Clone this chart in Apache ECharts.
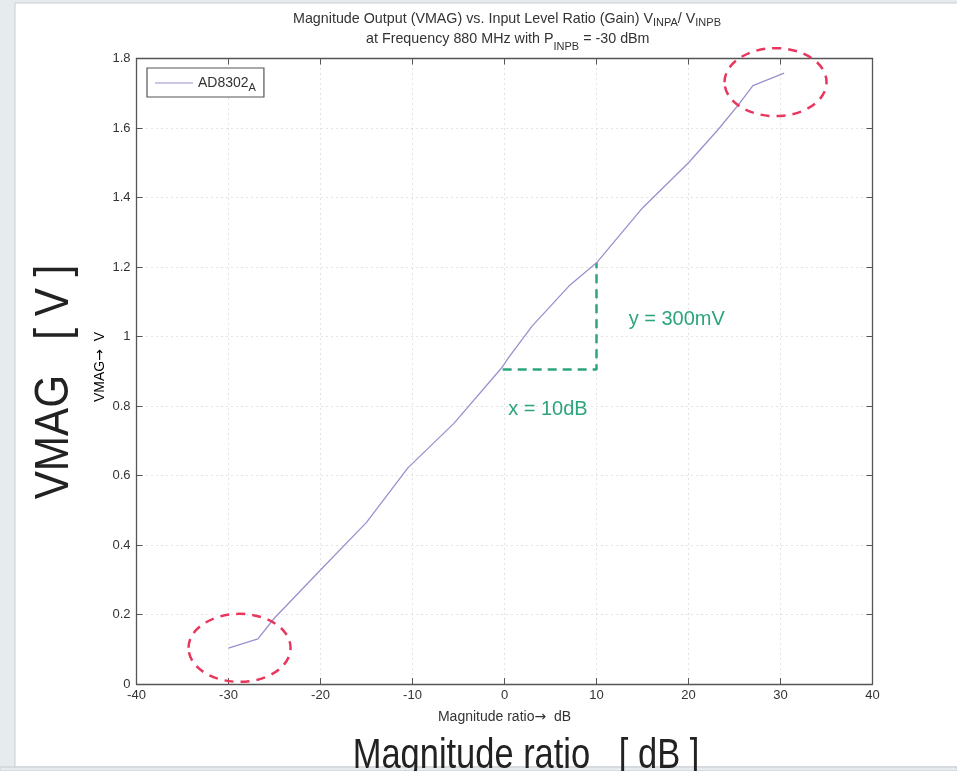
<!DOCTYPE html>
<html>
<head>
<meta charset="utf-8">
<script src="https://cdn.jsdelivr.net/npm/echarts@6/dist/echarts.min.js"></script>
<style>
  html, body { margin: 0; padding: 0; background: #e6ebee; }
  #chart { width: 957px; height: 771px; }
</style>
</head>
<body>
<div id="chart"></div>
<script>
// ---- data ----
const gainDb = [-30, -26.8, -25, -20, -15, -10.5, -5.5, -0.3, 0.4, 3, 7, 10, 15, 20, 23.2, 25.4, 27, 30.4];
const vmag   = [0.103, 0.13, 0.19, 0.328, 0.465, 0.622, 0.75, 0.91, 0.938, 1.03, 1.145, 1.212, 1.37, 1.50, 1.595, 1.666, 1.722, 1.758];
const slopeX = [-0.2, 10, 10];
const slopeY = [0.905, 0.905, 1.212];
const ellipseCentersX = [-28.8, 29.46];
const ellipseCentersY = [0.104, 1.732];
const xTicks = { min: -40, max: 40, interval: 10 };
const yTicks = { min: 0, max: 1.8, interval: 0.2 };
const seriesName = 'AD8302A';

const FONT = "'Liberation Sans', Arial, sans-serif";
const chart = echarts.init(document.getElementById('chart'));

const lineData = gainDb.map((x, i) => [x, vmag[i]]);
const slopeData = slopeX.map((x, i) => [x, slopeY[i]]);

const frameColor = '#555';
const gridLine = { show: true, lineStyle: { color: '#c9c9c9', type: [1, 4], width: 1 } };

function axisBase(show) {
  return {
    type: 'value',
    axisLine: { show: true, onZero: false, lineStyle: { color: frameColor, width: 1.3 } },
    axisTick: { show: true, inside: true, length: 6, lineStyle: { color: frameColor } },
    axisLabel: { show: show, color: '#333', fontSize: 13, fontFamily: FONT },
    splitLine: show ? gridLine : { show: false }
  };
}

const arrowRich = { fontSize: 14, color: '#333', fontFamily: "'DejaVu Sans', sans-serif" };
const nameRich = { n: { fontSize: 14, color: '#333', fontFamily: FONT }, r: arrowRich };

const option = {
  backgroundColor: 'transparent',
  animation: false,
  title: {
    left: 288,
    top: 7,
    textAlign: 'left',
    text: '{t|Magnitude Output (VMAG) vs. Input Level Ratio (Gain) V}{s|INPA}{t|/ V}{s|INPB}\n{c|}{t|at Frequency 880 MHz with P}{s2|INPB}{t| = -30 dBm}',
    textStyle: {
      fontFamily: FONT,
      fontWeight: 'normal',
      rich: {
        c: { width: 73 },
        t: { fontSize: 14.3, fontWeight: 'normal', color: '#333', fontFamily: FONT, lineHeight: 20, verticalAlign: 'top' },
        s: { fontSize: 11, fontWeight: 'normal', color: '#333', fontFamily: FONT, lineHeight: 20, padding: [5, 0, 0, 0], verticalAlign: 'top' },
        s2: { fontSize: 11, fontWeight: 'normal', color: '#333', fontFamily: FONT, lineHeight: 20, padding: [9, 0, 0, 0], verticalAlign: 'top' }
      }
    }
  },
  legend: {
    left: 147,
    top: 68,
    orient: 'vertical',
    data: [seriesName],
    backgroundColor: '#fff',
    borderColor: frameColor,
    borderWidth: 1.2,
    borderRadius: 0,
    padding: [5, 8, 4, 8],
    itemWidth: 38,
    itemHeight: 10,
    itemGap: 4,
    icon: 'path://M0,4.5 L38,4.5 L38,5.5 L0,5.5 Z',
    formatter: () => '{a|AD8302}{b|A}',
    textStyle: {
      rich: {
        a: { fontSize: 14, color: '#333', fontFamily: FONT, lineHeight: 18 },
        b: { fontSize: 11, color: '#333', fontFamily: FONT, lineHeight: 18, padding: [9, 0, 0, 0] }
      }
    }
  },
  grid: { left: 136.5, right: 84.5, top: 58.5, bottom: 87, containLabel: false },
  xAxis: [
    Object.assign(axisBase(true), {
      min: xTicks.min, max: xTicks.max, interval: xTicks.interval, position: 'bottom',
      name: '{n|Magnitude ratio}{r|\u2192}{n|  dB}', nameLocation: 'middle', nameGap: 26,
      nameTextStyle: { fontSize: 14, color: '#333', fontFamily: FONT, rich: nameRich },
      axisLabel: { show: true, color: '#333', fontSize: 13, fontFamily: FONT, margin: 5 }
    }),
    Object.assign(axisBase(false), {
      min: xTicks.min, max: xTicks.max, interval: xTicks.interval, position: 'top'
    })
  ],
  yAxis: [
    Object.assign(axisBase(true), {
      min: yTicks.min, max: yTicks.max, interval: yTicks.interval, position: 'left',
      axisLabel: { show: true, color: '#333', fontSize: 13, fontFamily: FONT, margin: 6 }
    }),
    Object.assign(axisBase(false), {
      min: yTicks.min, max: yTicks.max, interval: yTicks.interval, position: 'right'
    })
  ],
  series: [
    {
      name: seriesName,
      type: 'line',
      data: lineData,
      symbol: 'none',
      smooth: false,
      lineStyle: { color: '#9990cf', width: 1.3 },
      itemStyle: { color: '#9990cf' },
      z: 5
    },
    {
      name: 'slope',
      type: 'line',
      data: slopeData,
      symbol: 'none',
      lineStyle: { color: '#2da57c', width: 2.5, type: [9, 6] },
      z: 4
    }
  ]
};

chart.setOption(option);

// annotations positioned through the chart's own scales
const c1 = chart.convertToPixel({ gridIndex: 0 }, [ellipseCentersX[0], ellipseCentersY[0]]);
const c2 = chart.convertToPixel({ gridIndex: 0 }, [ellipseCentersX[1], ellipseCentersY[1]]);
const tY = chart.convertToPixel({ gridIndex: 0 }, [13.5, 1.05]);
const tX = chart.convertToPixel({ gridIndex: 0 }, [0.4, 0.79]);

const red = '#e8365e';
const green = '#2da57c';

chart.setOption({
  graphic: [
    { type: 'rect', z: -10, silent: true, shape: { x: 15, y: 3, width: 960, height: 764 },
      style: { fill: '#ffffff', stroke: '#c7ccd0', lineWidth: 1 } },
    { type: 'ellipse', z: 100, shape: { cx: c1[0], cy: c1[1], rx: 51, ry: 34 },
      style: { fill: 'none', stroke: red, lineWidth: 2.5, lineDash: [9, 7] } },
    { type: 'ellipse', z: 100, shape: { cx: c2[0], cy: c2[1], rx: 51, ry: 34 },
      style: { fill: 'none', stroke: red, lineWidth: 2.5, lineDash: [9, 7] } },
    { type: 'text', z: 100, x: tY[0], y: tY[1],
      style: { text: 'y = 300mV', fill: green, font: '20px ' + FONT, verticalAlign: 'middle' } },
    { type: 'text', z: 100, x: tX[0], y: tX[1],
      style: { text: 'x = 10dB', fill: green, font: '20px ' + FONT, verticalAlign: 'middle' } },
    { type: 'text', z: 100, x: 100, y: 367, rotation: Math.PI / 2,
      style: { text: '{n|VMAG}{r|\u2192}{n|  V}', rich: nameRich, align: 'center', verticalAlign: 'middle' } },
    { type: 'text', z: 100, x: 55, y: 382, rotation: Math.PI / 2, scaleX: 0.88, scaleY: 1,
      style: { text: 'VMAG   [ V ]', fill: '#222', font: '48px ' + FONT, align: 'center', verticalAlign: 'middle' } },
    { type: 'text', z: 100, x: 526, y: 756, scaleX: 0.82, scaleY: 1,
      style: { text: 'Magnitude ratio   [ dB ]', fill: '#222', font: '42px ' + FONT, align: 'center', verticalAlign: 'middle' } },
    { type: 'rect', z: 90, silent: true, shape: { x: 0, y: 767, width: 957, height: 4 },
      style: { fill: '#e6ebee', stroke: '#c7ccd0', lineWidth: 1 } }
  ]
});
</script>
</body>
</html>
